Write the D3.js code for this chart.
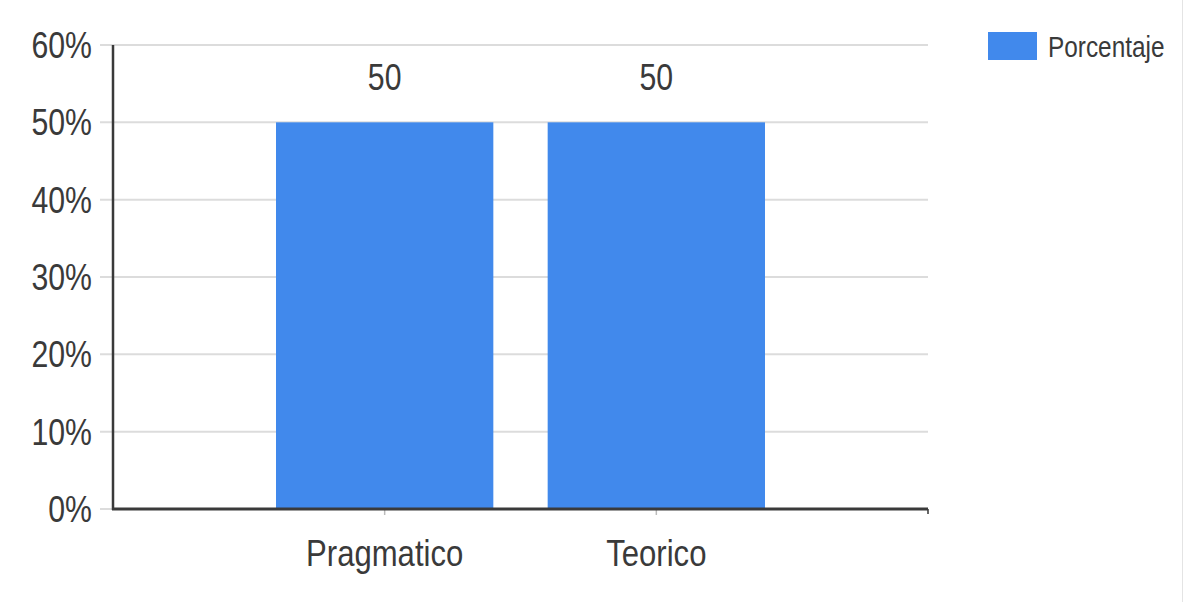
<!DOCTYPE html>
<html><head><meta charset="utf-8">
<script src="https://cdn.jsdelivr.net/npm/d3@7"></script>
<style>
html,body{margin:0;padding:0;background:#fff;}
text{font-family:"Liberation Sans",Arial,sans-serif;fill:#3a3a3a;}
</style></head>
<body><svg id="chart" width="1186" height="602"></svg>
<script>
const categories = ["Pragmatico", "Teorico"];
const values = [50, 50];
const yTicks = [0, 10, 20, 30, 40, 50, 60];
const seriesName = "Porcentaje";

const svg = d3.select("#chart");
const pLeft = 113, pRight = 928, pTop = 45, pBottom = 509;

const x = d3.scaleBand().domain(categories).range([pLeft, pRight]).paddingInner(0.2).paddingOuter(0.6);
const y = d3.scaleLinear().domain([0, 60]).range([pBottom, pTop]);

// gridlines
svg.append("g").selectAll("line").data(yTicks).join("line")
  .attr("x1", pLeft - 13).attr("x2", pRight)
  .attr("y1", d => y(d)).attr("y2", d => y(d))
  .attr("stroke", "#dcdcdc").attr("stroke-width", 2);

// y tick labels
svg.append("g").selectAll("text").data(yTicks).join("text")
  .attr("class", "narrow")
  .attr("x", 92).attr("y", d => y(d)).attr("dy", "0.36em")
  .attr("text-anchor", "end").attr("font-size", 36)
  .text(d => d + "%");

// bars
svg.append("g").selectAll("rect").data(categories).join("rect")
  .attr("x", d => x(d)).attr("width", x.bandwidth())
  .attr("y", (d, i) => y(values[i])).attr("height", (d, i) => y(0) - y(values[i]))
  .attr("fill", "#4189ec");

// value labels
svg.append("g").selectAll("text").data(categories).join("text")
  .attr("class", "narrow")
  .attr("x", d => x(d) + x.bandwidth() / 2).attr("y", (d, i) => y(values[i]) - 32)
  .attr("text-anchor", "middle").attr("font-size", 36)
  .text((d, i) => values[i]);

// y axis line
svg.append("line").attr("x1", pLeft).attr("x2", pLeft).attr("y1", pTop).attr("y2", pBottom + 1)
  .attr("stroke", "#3a3a3a").attr("stroke-width", 2.5);

// x axis ticks
svg.append("g").selectAll("line").data(categories).join("line")
  .attr("x1", d => x(d) + x.bandwidth() / 2).attr("x2", d => x(d) + x.bandwidth() / 2)
  .attr("y1", pBottom).attr("y2", pBottom + 6)
  .attr("stroke", "#bbb").attr("stroke-width", 1.5);
svg.append("line").attr("x1", pRight).attr("x2", pRight).attr("y1", pBottom).attr("y2", pBottom + 5)
  .attr("stroke", "#666").attr("stroke-width", 2);

// x axis line
svg.append("line").attr("x1", pLeft - 1).attr("x2", pRight).attr("y1", pBottom).attr("y2", pBottom)
  .attr("stroke", "#3a3a3a").attr("stroke-width", 3);

// category labels
svg.append("g").selectAll("text").data(categories).join("text")
  .attr("class", "narrow")
  .attr("x", d => x(d) + x.bandwidth() / 2).attr("y", 566)
  .attr("text-anchor", "middle").attr("font-size", 37)
  .text(d => d);

// legend
const lg = svg.append("g");
lg.append("rect").attr("x", 988).attr("y", 32).attr("width", 49).attr("height", 28).attr("fill", "#4189ec");
lg.append("text").attr("class", "narrow").attr("x", 1048).attr("y", 57).attr("font-size", 29).text(seriesName);

// condense text horizontally (reference typography is narrow)
svg.selectAll("text.narrow").each(function () {
  const w = this.getComputedTextLength();
  d3.select(this).attr("textLength", w * 0.84).attr("lengthAdjust", "spacingAndGlyphs");
});

// faint right border
svg.append("line").attr("x1", 1182.5).attr("x2", 1182.5).attr("y1", 0).attr("y2", 602)
  .attr("stroke", "#e4e4e4").attr("stroke-width", 1);
</script></body></html>
